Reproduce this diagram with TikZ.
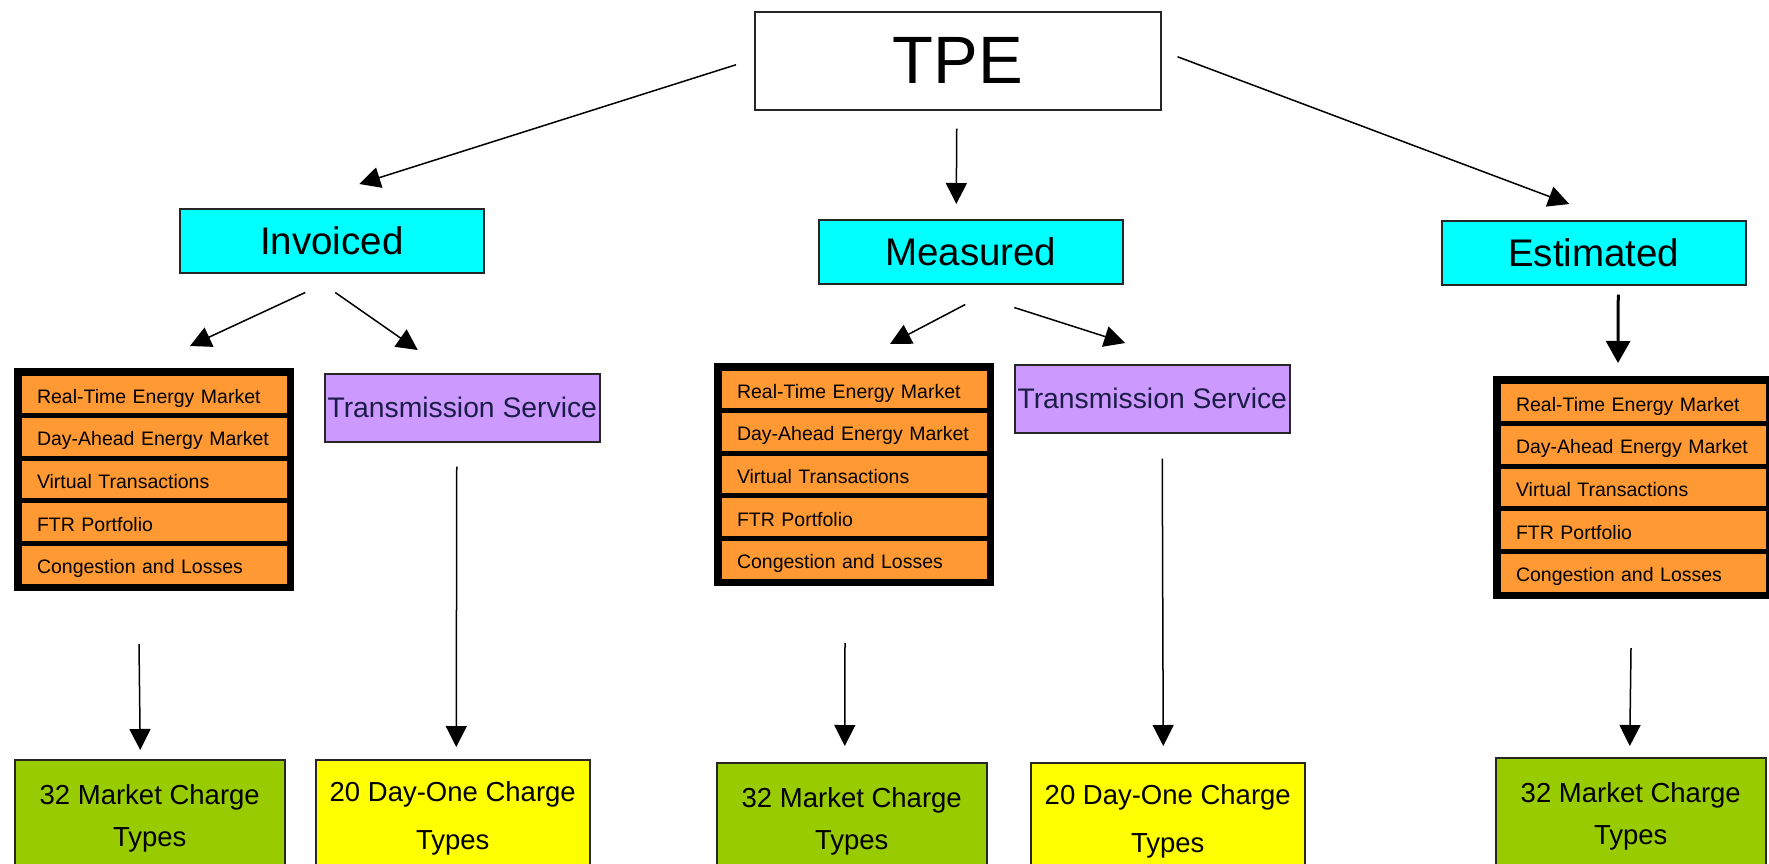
\documentclass[tikz,border=0pt]{standalone}
\usepackage{fontspec}
\setmainfont{Liberation Sans}
\usetikzlibrary{arrows.meta,calc}
\definecolor{boxcyan}{HTML}{00FFFF}
\definecolor{boxorange}{HTML}{FF9933}
\definecolor{boxpurple}{HTML}{CC99FF}
\definecolor{boxgreen}{HTML}{99CC00}
\definecolor{boxyellow}{HTML}{FFFF00}
\definecolor{tstext}{HTML}{1C1C48}
\newcommand\chargelist[3]{%
  \node[listframe] (#1) at (#2,#3) {};
  \foreach \t [count=\i] in {Real-Time Energy Market, Day-Ahead Energy Market, Virtual Transactions, FTR Portfolio, Congestion and Losses}
    \node[listrow] (#1-\i) at ($(#1.north west)+(7,{7+(\i-1)*42.6})$) {\t};
}
\begin{document}
\begin{tikzpicture}[x=1pt,y=-1pt,
  box/.style={draw=black!85, line width=1.5pt, rectangle, inner sep=0pt, anchor=north west, align=center},
  tpebox/.style={box, fill=white, minimum width=406pt, minimum height=98pt, font=\fontsize{67}{80}\selectfont},
  catbox/.style={box, fill=boxcyan, minimum width=304pt, minimum height=64pt, font=\fontsize{38.5}{46}\selectfont},
  tsbox/.style={box, fill=boxpurple, minimum width=275pt, minimum height=68pt, text=tstext, font=\fontsize{28.3}{34}\selectfont},
  greenbox/.style={box, fill=boxgreen, minimum width=270pt, minimum height=117pt, font=\fontsize{27.5}{42}\selectfont},
  yellowbox/.style={box, fill=boxyellow, minimum width=274pt, minimum height=117pt, font=\fontsize{27.5}{48}\selectfont},
  listframe/.style={rectangle, fill=black, inner sep=0pt, outer sep=0pt, anchor=north west, minimum width=280pt, minimum height=223pt},
  listrow/.style={rectangle, fill=boxorange, draw=black, line width=1pt, anchor=north west, inner xsep=16pt, inner ysep=0pt, outer sep=0pt, text width=234pt, text height=19pt, text depth=1pt, align=left, minimum height=38.6pt, font=\fontsize{19.5}{23}\selectfont},
  arr/.style={-{Triangle[length=21pt,width=21pt]}, line width=1.5pt},
  thickarr/.style={-{Triangle[length=22pt,width=24pt]}, line width=3pt}
]
\useasboundingbox (0,0) rectangle (1769,863);

% top
\node[tpebox] (tpe) at (754,11) {TPE};
\node[catbox] (inv) at (179,208) {Invoiced};
\node[catbox] (meas) at (818,219) {Measured};
\node[catbox] (est) at (1441,220) {Estimated};

% lists and transmission boxes
\chargelist{invlist}{14}{368}
\node[tsbox] (invts) at (324,373) {Transmission Service};
\chargelist{measlist}{714}{363}
\node[tsbox] (measts) at (1014,364) {Transmission Service};
\chargelist{estlist}{1493}{376}

% bottom boxes
\node[greenbox] (invgreen) at (14,759) {32 Market Charge\\Types};
\node[yellowbox] (invyellow) at (315,759) {20 Day-One Charge\\Types};
\node[greenbox] (measgreen) at (716,762) {32 Market Charge\\Types};
\node[yellowbox] (measyellow) at (1030,762) {20 Day-One Charge\\Types};
\node[greenbox] (estgreen) at (1495,757) {32 Market Charge\\Types};

% connectors
\draw[arr] ($(tpe.west)+(-18,4)$) -- ($(inv.north)+(27.5,-24)$);
\draw[arr] ($(tpe.south)+(-1,18)$) -- ($(meas.north)+(-14.5,-15)$);
\draw[arr] ($(tpe.east)+(16,-4)$) -- ($(est.north)+(-24.5,-16)$);

\draw[arr] ($(inv.south)+(-26.5,19)$) -- ($(invlist.north)+(36,-22)$);
\draw[arr] ($(inv.south)+(3.5,19)$) -- ($(invts.north)+(-44.5,-23)$);
\draw[arr] ($(meas.south)+(-5.5,20)$) -- ($(measlist.north)+(36,-19)$);
\draw[arr] ($(meas.south)+(43.5,23)$) -- ($(measts.north)+(-27,-21)$);
\draw[thickarr] ($(est.south)+(24.5,9)$) -- ($(estlist.north)+(-15,-13)$);

\draw[arr] ($(invlist.south)+(-15,53)$) -- ($(invgreen.north)+(-9.5,-9)$);
\draw[arr] ($(invts.south)+(-5.5,24)$) -- ($(invyellow.north)+(3.5,-12)$);
\draw[arr] ($(measlist.south)+(-9,57)$) -- ($(measgreen.north)+(-7,-16)$);
\draw[arr] ($(measts.south)+(10,25)$) -- ($(measyellow.north)+(-4.5,-16)$);
\draw[arr] ($(estlist.south)+(-2,49)$) -- ($(estgreen.north)+(-1,-11)$);
\end{tikzpicture}
\end{document}
